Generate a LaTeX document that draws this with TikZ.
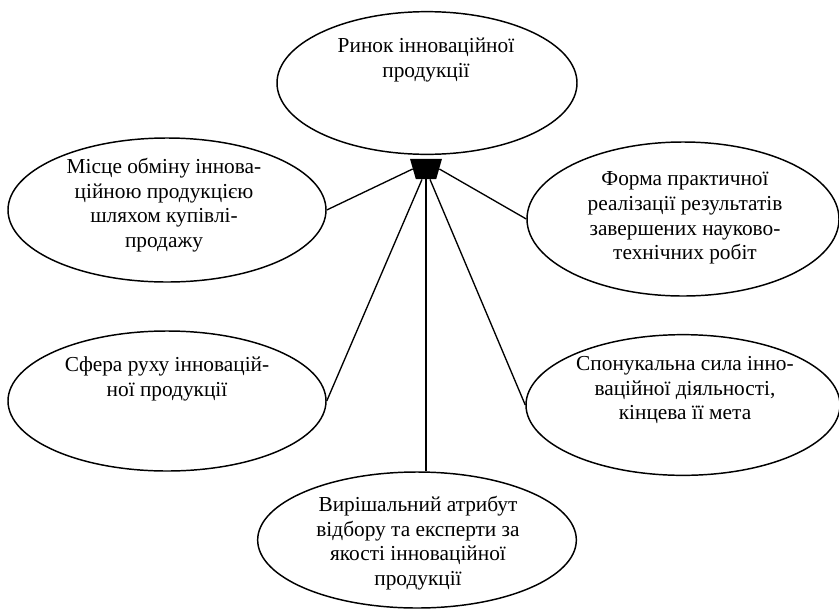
\documentclass[tikz,border=0pt]{standalone}
\usepackage{fontspec}
\setmainfont{Liberation Serif}
\usetikzlibrary{shapes.geometric}
\begin{document}
\begin{tikzpicture}[x=0.75pt,y=-0.75pt]
    \tikzset{
      oval/.style={
        draw, ellipse, line width=1.1pt, inner sep=0pt,
     },
      caption/.style={
        align=center, inner sep=0pt,
        font=\fontsize{16}{18.5}\selectfont,
     },
      link/.style={
        line width=1pt,
     }
    }
    \useasboundingbox (0,0) rectangle (839,611);
    % ellipses
    \node[oval, minimum width=225pt, minimum height=107pt] (market) at (427,83) {};
    \node[oval, minimum width=238.5pt, minimum height=108pt] (place) at (167,210) {};
    \node[oval, minimum width=234pt, minimum height=115.5pt] (form) at (683,219) {};
    \node[oval, minimum width=238.5pt, minimum height=105pt] (sphere) at (167,401) {};
    \node[oval, minimum width=235.5pt, minimum height=105.5pt] (force) at (683,405) {};
    \node[oval, minimum width=239pt, minimum height=102pt] (attr) at (417,540) {};
    %
    \node[caption] (market-t) at (426,60) {Ринок інноваційної\\продукції};
    \node[caption] (place-t) at (164,205) {Місце обміну іннова-\\ційною продукцією\\шляхом купівлі-\\продажу};
    \node[caption] (form-t) at (685,218) {Форма практичної\\реалізації результатів\\завершених науково-\\технічних робіт};
    \node[caption] (sphere-t) at (167,379) {Сфера руху інновацій-\\ної продукції};
    \node[caption] (force-t) at (685,390) {Спонукальна сила інно-\\ваційної діяльності,\\кінцева її мета};
    \node[caption] (attr-t) at (418,543) {Вирішальний атрибут\\відбору та експерти за\\якості інноваційної\\продукції};
    %
    \node[trapezium, trapezium angle=74, shape border rotate=180,
      minimum width=24pt, minimum height=8pt, inner sep=0.5pt, fill=black] (hub) at (426,169) {};
    %
    \draw[link] (hub.west) -- (place.east);
    \draw[link] (hub.east) -- (form.west);
    \draw[link] ([xshift=-3pt]hub.south) -- (sphere.east);
    \draw[link] (hub.south) -- (hub.south |- attr.north);
    \draw[link] ([xshift=3pt]hub.south) -- (force.west);
\end{tikzpicture}
\end{document}
